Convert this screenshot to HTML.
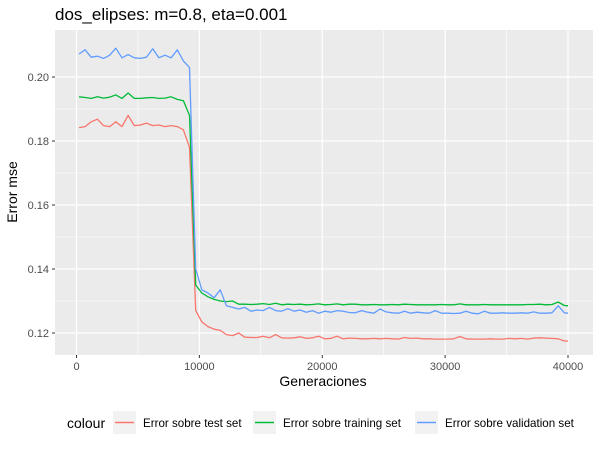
<!DOCTYPE html>
<html><head><meta charset="utf-8"><style>
body{margin:0;background:#fff;font-family:"Liberation Sans",sans-serif}
</style></head><body>
<svg id="c" width="600" height="449" xmlns="http://www.w3.org/2000/svg" font-family="Liberation Sans, sans-serif">
<text x="55" y="20" font-size="17" fill="#000">dos_elipses: m=0.8, eta=0.001</text>
<rect x="55" y="30" width="538" height="325" fill="#EBEBEB"/>
<g id="grid"></g>
<g id="series"></g>
<g id="axes"></g>
<text x="323" y="386" font-size="14" text-anchor="middle">Generaciones</text>
<text transform="translate(17,192) rotate(-90)" font-size="14" text-anchor="middle">Error mse</text>
<g>
<text x="67" y="428" font-size="14">colour</text>
<g><rect x="113" y="411" width="23" height="23" fill="#F2F2F2"/><line x1="115" x2="134" y1="422.5" y2="422.5" stroke="#F8766D" stroke-width="1.5"/><text x="143" y="427" font-size="11.6">Error sobre test set</text></g>
<g><rect x="253" y="411" width="23" height="23" fill="#F2F2F2"/><line x1="255" x2="274" y1="422.5" y2="422.5" stroke="#00BA38" stroke-width="1.5"/><text x="283" y="427" font-size="11.6">Error sobre training set</text></g>
<g><rect x="415" y="411" width="23" height="23" fill="#F2F2F2"/><line x1="417" x2="436" y1="422.5" y2="422.5" stroke="#619CFF" stroke-width="1.5"/><text x="445" y="427" font-size="11.6">Error sobre validation set</text></g>
</g>
</svg>
<script>
const gens=[200,700,1200,1700,2200,2700,3200,3700,4200,4700,5200,5700,6200,6700,7200,7700,8200,8700,9200,9700,10200,10700,11200,11700,12200,12700,13200,13700,14200,14700,15200,15700,16200,16700,17200,17700,18200,18700,19200,19700,20200,20700,21200,21700,22200,22700,23200,23700,24200,24700,25200,25700,26200,26700,27200,27700,28200,28700,29200,29700,30200,30700,31200,31700,32200,32700,33200,33700,34200,34700,35200,35700,36200,36700,37200,37700,38200,38700,39200,39700,40000];
const testErr=[0.1842,0.1845,0.1860,0.1868,0.1848,0.1845,0.1860,0.1845,0.1880,0.1848,0.1850,0.1856,0.1848,0.1850,0.1845,0.1848,0.1845,0.1835,0.1780,0.1270,0.1235,0.1220,0.1212,0.1208,0.1195,0.1192,0.1200,0.1187,0.1186,0.1186,0.1190,0.1185,0.1195,0.1185,0.1184,0.1185,0.1188,0.1183,0.1185,0.1190,0.1182,0.1183,0.1190,0.1182,0.1184,0.1183,0.1182,0.1182,0.1183,0.1182,0.1183,0.1182,0.1181,0.1186,0.1183,0.1184,0.1182,0.1182,0.1181,0.1181,0.1181,0.1182,0.1189,0.1182,0.1181,0.1181,0.1181,0.1182,0.1181,0.1181,0.1183,0.1182,0.1183,0.1181,0.1184,0.1185,0.1184,0.1183,0.1182,0.1175,0.1175];
const trainErr=[0.1938,0.1936,0.1933,0.1938,0.1934,0.1937,0.1944,0.1933,0.1950,0.1933,0.1933,0.1935,0.1936,0.1933,0.1934,0.1938,0.1930,0.1926,0.1880,0.1350,0.1325,0.1313,0.1305,0.1300,0.1298,0.1300,0.1290,0.1290,0.1289,0.1290,0.1292,0.1289,0.1293,0.1288,0.1290,0.1289,0.1290,0.1288,0.1289,0.1291,0.1288,0.1289,0.1291,0.1288,0.1290,0.1290,0.1288,0.1288,0.1289,0.1288,0.1288,0.1289,0.1288,0.1290,0.1289,0.1288,0.1288,0.1288,0.1288,0.1289,0.1288,0.1288,0.1291,0.1288,0.1288,0.1288,0.1289,0.1288,0.1288,0.1288,0.1288,0.1288,0.1288,0.1289,0.1289,0.1290,0.1288,0.1289,0.1297,0.1286,0.1285];
const validErr=[0.2072,0.2085,0.2062,0.2065,0.2058,0.2068,0.2090,0.2060,0.2070,0.2060,0.2058,0.2062,0.2088,0.2060,0.2068,0.2060,0.2085,0.2050,0.2030,0.1400,0.1335,0.1325,0.1310,0.1335,0.1285,0.1280,0.1275,0.1280,0.1268,0.1272,0.1270,0.1280,0.1270,0.1268,0.1276,0.1268,0.1272,0.1265,0.1270,0.1262,0.1268,0.1265,0.1270,0.1268,0.1264,0.1263,0.1270,0.1265,0.1262,0.1275,0.1266,0.1263,0.1262,0.1268,0.1262,0.1265,0.1263,0.1262,0.1270,0.1262,0.1262,0.1261,0.1262,0.1268,0.1262,0.1260,0.1268,0.1262,0.1262,0.1263,0.1262,0.1262,0.1263,0.1262,0.1266,0.1262,0.1262,0.1263,0.1285,0.1263,0.1262];
const xTicks=[0,10000,20000,30000,40000];
const yTicks=[0.12,0.14,0.16,0.18,0.20];
const NS='http://www.w3.org/2000/svg';
const X=v=>76.5+v*(491.5/40000);
const Y=v=>333-(v-0.12)*3200;
const g=document.getElementById('grid'),s=document.getElementById('series'),a=document.getElementById('axes');
function el(t,at,p){const e=document.createElementNS(NS,t);for(const k in at)e.setAttribute(k,at[k]);p.appendChild(e);return e;}
for(let i=0;i<xTicks.length-1;i++){const m=el('line',{x1:X((xTicks[i]+xTicks[i+1])/2),x2:X((xTicks[i]+xTicks[i+1])/2),y1:30,y2:355,stroke:'#fff','stroke-width':0.6},g);

}
for(let i=0;i<yTicks.length-1;i++){const m=el('line',{x1:55,x2:593,y1:Y((yTicks[i]+yTicks[i+1])/2),y2:Y((yTicks[i]+yTicks[i+1])/2),stroke:'#fff','stroke-width':0.6},g);

}
xTicks.forEach(t=>{const l=el('line',{x1:X(t),x2:X(t),y1:30,y2:355,stroke:'#fff','stroke-width':1.2},g);


el('line',{x1:X(t),x2:X(t),y1:355,y2:358,stroke:'#333'},a);
const tx=el('text',{x:X(t),y:370,'font-size':11,'text-anchor':'middle',fill:'#4D4D4D'},a);tx.textContent=t;

});
yTicks.forEach(t=>{const l=el('line',{x1:55,x2:593,y1:Y(t),y2:Y(t),stroke:'#fff','stroke-width':1.2},g);


el('line',{x1:52,x2:55,y1:Y(t),y2:Y(t),stroke:'#333'},a);
const tx=el('text',{x:49,y:Y(t)+4,'font-size':11,'text-anchor':'end',fill:'#4D4D4D'},a);tx.textContent=t.toFixed(2);

});
function line(vals,col,name){const d=vals.map((v,i)=>(i?'L':'M')+X(gens[i]).toFixed(1)+','+Y(v).toFixed(1)).join('');
const p=el('path',{d:d,fill:'none',stroke:col,'stroke-width':1.3,'stroke-linejoin':'round'},s);

}
line(testErr,'#F8766D','test-error-line');
line(trainErr,'#00BA38','training-error-line');
line(validErr,'#619CFF','validation-error-line');
</script>
</body></html>
